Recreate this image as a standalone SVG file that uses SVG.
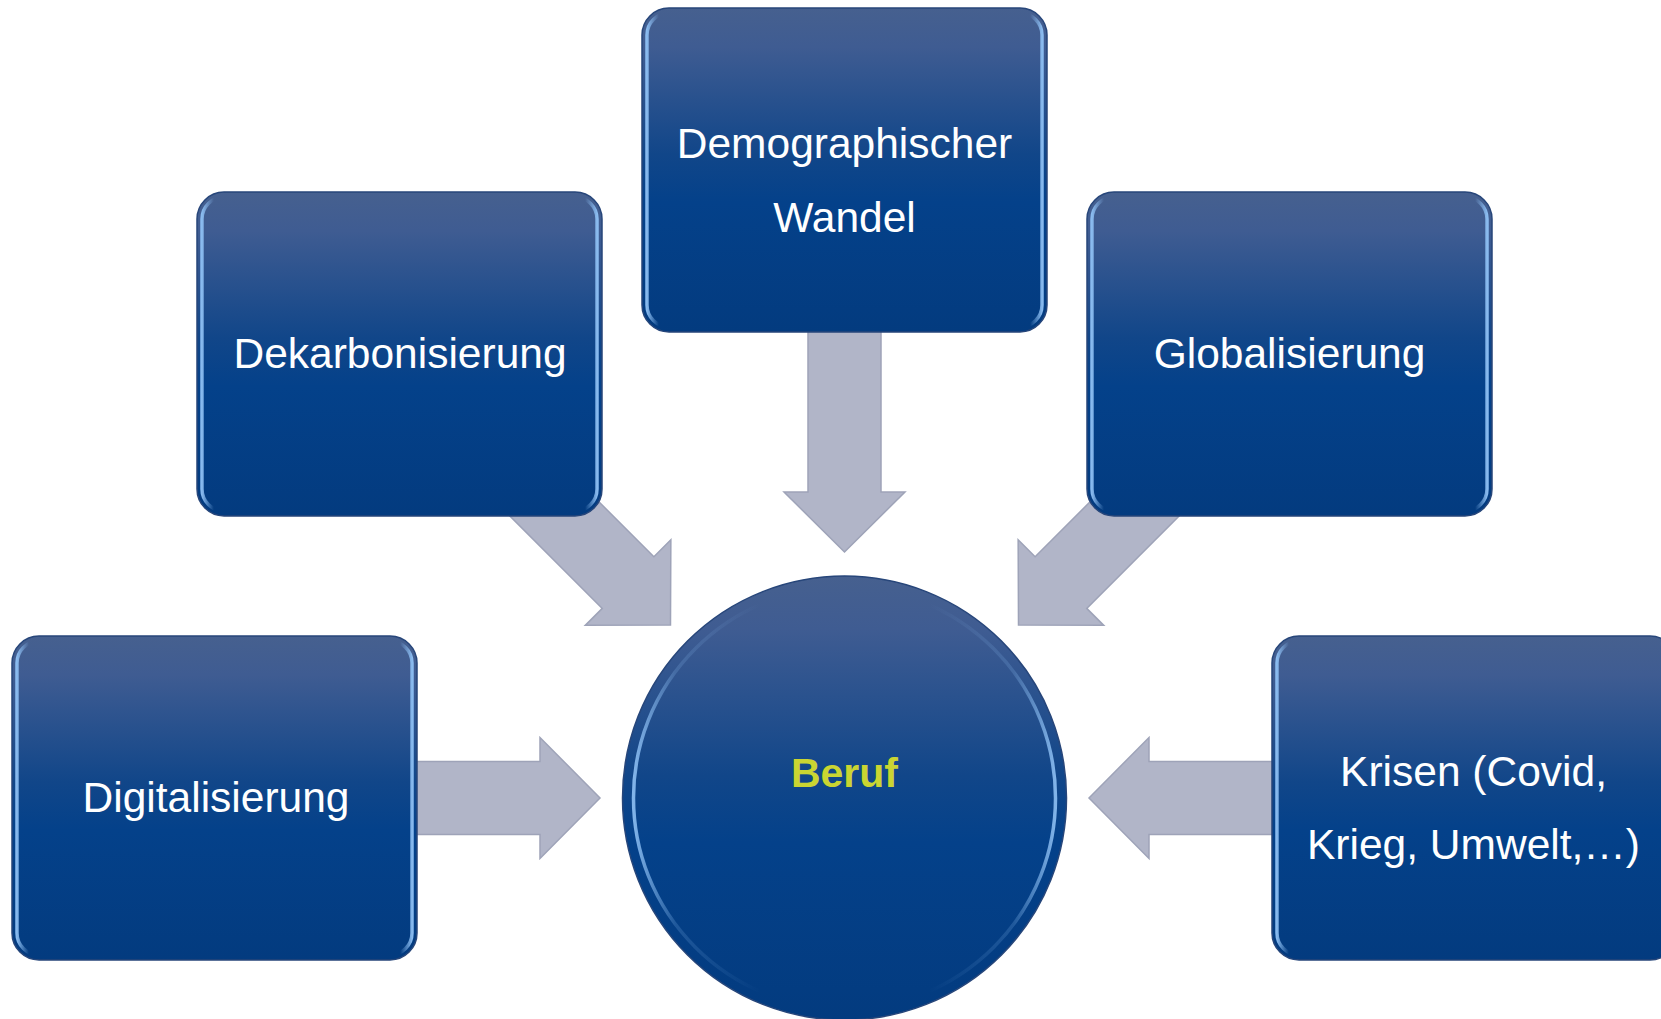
<svg xmlns="http://www.w3.org/2000/svg" width="1661" height="1019" viewBox="0 0 1661 1019">
  <defs>
    <style>
      .lbl { font-family: "Liberation Sans", Arial, sans-serif; font-size: 42.5px; fill: #ffffff; text-anchor: middle; }
      .beruf { font-family: "Liberation Sans", Arial, sans-serif; font-size: 41px; font-weight: bold; fill: #CAD532; text-anchor: middle; }
      .box { fill: url(#boxFill); stroke: #27467A; stroke-width: 1.5; }
      .hl { fill: none; stroke: url(#hlGrad); stroke-width: 3.5; }
      .arrow { fill: #B1B5C8; stroke: #9EA3B8; stroke-width: 1.5; stroke-linejoin: miter; }
    </style>
    <linearGradient id="boxFill" x1="0" y1="0" x2="0" y2="1">
      <stop offset="0" stop-color="#46608F"/>
      <stop offset="0.12" stop-color="#3F5C92"/>
      <stop offset="0.45" stop-color="#114689"/>
      <stop offset="0.6" stop-color="#04418A"/>
      <stop offset="1" stop-color="#033B7F"/>
    </linearGradient>
    <linearGradient id="hlGrad" x1="0" y1="0" x2="1" y2="0">
      <stop offset="0" stop-color="#8EC0F4" stop-opacity="0.95"/>
      <stop offset="0.03" stop-color="#8EC0F4" stop-opacity="0"/>
      <stop offset="0.97" stop-color="#8EC0F4" stop-opacity="0"/>
      <stop offset="1" stop-color="#8EC0F4" stop-opacity="0.95"/>
    </linearGradient>
    <linearGradient id="ringGrad" x1="0" y1="0" x2="1" y2="0">
      <stop offset="0" stop-color="#8EC0F4" stop-opacity="0.9"/>
      <stop offset="0.1" stop-color="#8EC0F4" stop-opacity="0.2"/>
      <stop offset="0.3" stop-color="#8EC0F4" stop-opacity="0"/>
      <stop offset="0.7" stop-color="#8EC0F4" stop-opacity="0"/>
      <stop offset="0.9" stop-color="#8EC0F4" stop-opacity="0.2"/>
      <stop offset="1" stop-color="#8EC0F4" stop-opacity="0.9"/>
    </linearGradient>
    <path id="arr200" d="M-200,-36.5 L-60,-36.5 L-60,-60.5 L0,0 L-60,60.5 L-60,36.5 L-200,36.5 Z"/>
    <path id="arr220" d="M-220,-36.5 L-60,-36.5 L-60,-60.5 L0,0 L-60,60.5 L-60,36.5 L-220,36.5 Z"/>
    <path id="arr240" d="M-240,-36.5 L-60,-36.5 L-60,-60.5 L0,0 L-60,60.5 L-60,36.5 L-240,36.5 Z"/>
  </defs>

  <rect x="0" y="0" width="1661" height="1019" fill="#ffffff"/>

  <g id="connectors">
    <use href="#arr240" class="arrow" transform="translate(844.5,552) rotate(90)"/>
    <use href="#arr220" class="arrow" transform="translate(670.5,625) rotate(45)"/>
    <use href="#arr220" class="arrow" transform="translate(1018.5,625) rotate(135)"/>
    <use href="#arr200" class="arrow" transform="translate(600,798)"/>
    <use href="#arr200" class="arrow" transform="translate(1089,798) rotate(180)"/>
  </g>

  <g id="node-demographischer">
    <rect class="box" x="642" y="8" width="405" height="324" rx="27"/>
    <rect class="hl" x="647" y="13" width="395" height="314" rx="22"/>
    <text class="lbl" x="844.5" y="158">Demographischer</text>
    <text class="lbl" x="844.5" y="232">Wandel</text>
  </g>

  <g id="node-dekarbonisierung">
    <rect class="box" x="197" y="192" width="405" height="324" rx="27"/>
    <rect class="hl" x="202" y="197" width="395" height="314" rx="22"/>
    <text class="lbl" x="400" y="368">Dekarbonisierung</text>
  </g>

  <g id="node-globalisierung">
    <rect class="box" x="1087" y="192" width="405" height="324" rx="27"/>
    <rect class="hl" x="1092" y="197" width="395" height="314" rx="22"/>
    <text class="lbl" x="1289.5" y="368">Globalisierung</text>
  </g>

  <g id="node-digitalisierung">
    <rect class="box" x="12" y="636" width="405" height="324" rx="27"/>
    <rect class="hl" x="17" y="641" width="395" height="314" rx="22"/>
    <text class="lbl" x="216" y="812">Digitalisierung</text>
  </g>

  <g id="node-krisen">
    <rect class="box" x="1272" y="636" width="405" height="324" rx="27"/>
    <rect class="hl" x="1277" y="641" width="395" height="314" rx="22"/>
    <text class="lbl" x="1473.5" y="786">Krisen (Covid,</text>
    <text class="lbl" x="1473.5" y="859">Krieg, Umwelt,…)</text>
  </g>

  <g id="node-beruf">
    <circle cx="844.5" cy="798" r="222" fill="url(#boxFill)" stroke="#27467A" stroke-width="1.5"/>
    <circle cx="844.5" cy="798" r="211" fill="none" stroke="url(#ringGrad)" stroke-width="3.5"/>
    <text class="beruf" x="844.5" y="787">Beruf</text>
  </g>
</svg>
